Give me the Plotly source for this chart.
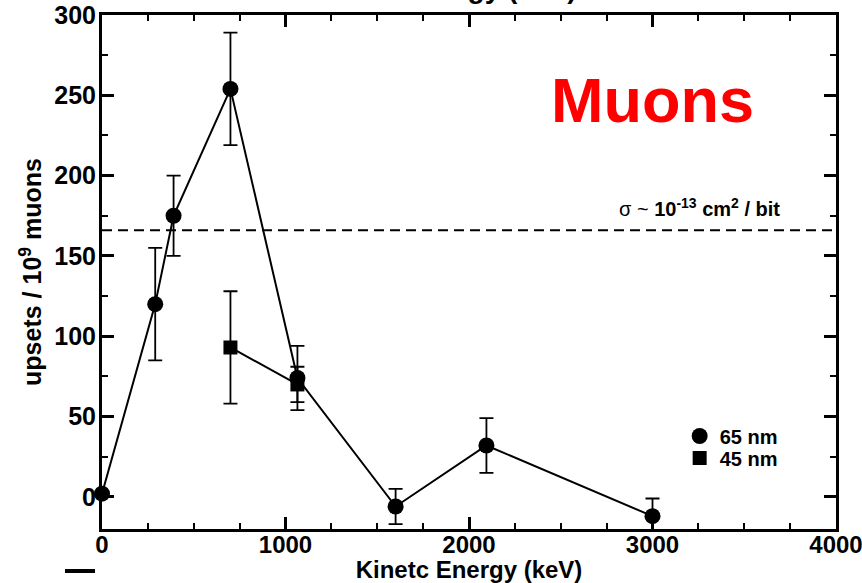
import plotly.graph_objects as go

# ---- data ----
energy_65nm = [0, 290, 390, 700, 1065, 1600, 2095, 3000]
upsets_65nm = [2, 120, 175, 254, 74, -6, 32, -12]
err_65nm = [0, 35, 25, 35, 20, 11, 17, 11]

energy_45nm = [700, 1065]
upsets_45nm = [93, 70]
err_45nm = [35, 11]

sigma_level = 166
sigma_label = 'σ ~ <b>10<sup>-13</sup> cm<sup>2</sup> / bit</b>'

x_title = 'Kinetc Energy (keV)'
y_title = 'upsets / 10<sup>9</sup> muons'

FONT = 'Liberation Sans, Arial, Helvetica, sans-serif'

fig = go.Figure()

fig.add_trace(go.Scatter(
    x=energy_65nm, y=upsets_65nm, mode='lines+markers',
    line=dict(color='black', width=2),
    marker=dict(symbol='circle', size=16, color='black'),
    error_y=dict(type='data', array=err_65nm, visible=True, color='black',
                 thickness=1.8, width=7),
    cliponaxis=False, showlegend=False, name='65 nm'))

fig.add_trace(go.Scatter(
    x=energy_45nm, y=upsets_45nm, mode='lines+markers',
    line=dict(color='black', width=2),
    marker=dict(symbol='square', size=14, color='black'),
    error_y=dict(type='data', array=err_45nm, visible=True, color='black',
                 thickness=1.8, width=7),
    cliponaxis=False, showlegend=False, name='45 nm'))

# legend-only entries (markers only)
fig.add_trace(go.Scatter(x=[None], y=[None], mode='markers', name='<b>65 nm</b>',
                         marker=dict(symbol='circle', size=16, color='black'),
                         legend='legend'))
fig.add_trace(go.Scatter(x=[None], y=[None], mode='markers', name='<b>45 nm</b>',
                         marker=dict(symbol='square', size=14, color='black'),
                         legend='legend2'))

fig.add_hline(y=sigma_level, line=dict(color='black', width=2, dash='10px,6px'))

axis_common = dict(
    showline=True, linewidth=3, linecolor='black', mirror='allticks',
    ticks='inside', ticklen=12, tickwidth=2.5, tickcolor='black',
    showgrid=False, zeroline=False, ticklabeloverflow='allow',
)

fig.update_xaxes(
    range=[0, 4000], tick0=0, dtick=1000,
    ticklabelposition='outside', ticklabelstandoff=-8,
    tickfont=dict(family=FONT, size=24, color='black', weight='bold'),
    minor=dict(dtick=250, ticks='inside', ticklen=6, tickwidth=1.5, tickcolor='black', showgrid=False),
    title=dict(text=x_title, font=dict(family=FONT, size=24, color='black', weight='bold'), standoff=6),
    **axis_common)
fig.update_yaxes(
    range=[-20, 300], tick0=0, dtick=50,
    ticklabelposition='outside', ticklabelstandoff=-2,
    tickfont=dict(family=FONT, size=25, color='black', weight='bold'),
    minor=dict(dtick=25, ticks='inside', ticklen=6, tickwidth=1.5, tickcolor='black', showgrid=False),
    title=dict(text=y_title, font=dict(family=FONT, size=25, color='black', weight='bold'), standoff=6),
    **axis_common)

fig.add_annotation(text='<b>Muons</b>', xref='paper', yref='paper', x=0.750, y=0.835,
                   xanchor='center', yanchor='middle', showarrow=False,
                   font=dict(family=FONT, size=63, color='#ff0000'))
fig.add_annotation(text=sigma_label, xref='paper', yref='paper', x=0.926, y=0.597,
                   xanchor='right', yanchor='bottom', showarrow=False,
                   font=dict(family=FONT, size=20, color='black'))
# cut-off title at the very top of the picture
fig.add_annotation(text='<b>' + x_title + '</b>', xref='paper', yref='paper', x=0.466, y=1.0175,
                   xanchor='center', yanchor='bottom', showarrow=False,
                   font=dict(family=FONT, size=28, color='black'))

# small dash below the axis at lower left
fig.add_shape(type='line', xref='paper', yref='paper', x0=-0.0504, x1=-0.0095,
              y0=-0.0817, y1=-0.0817, line=dict(color='black', width=4))

legend_style = dict(bgcolor='rgba(0,0,0,0)', borderwidth=0, xanchor='left', yanchor='middle',
                    font=dict(family=FONT, size=20, color='black'))
fig.update_layout(
    width=862, height=583,
    margin=dict(l=102, r=26, t=15, b=54, autoexpand=False),
    paper_bgcolor='white', plot_bgcolor='white',
    legend=dict(x=0.787, y=(529 - 436) / 514, **legend_style),
    legend2=dict(x=0.787, y=(529 - 458) / 514, **legend_style),
    font=dict(family=FONT),
)

fig.write_html('out.html')
